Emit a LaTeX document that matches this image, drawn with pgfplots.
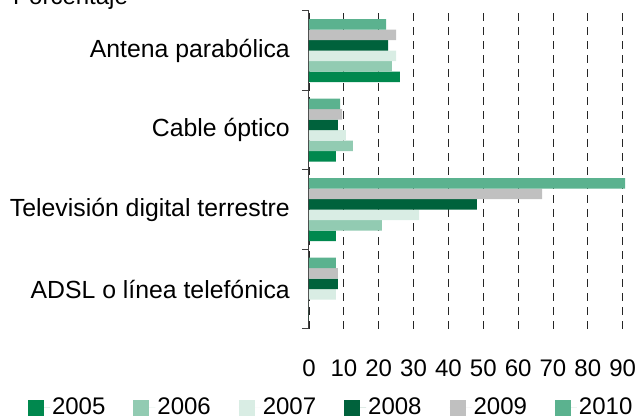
\documentclass[border=0pt]{standalone}
\usepackage{fontspec}
\setmainfont{Liberation Sans}
\usepackage{pgfplots}
\pgfplotsset{compat=1.18}
\definecolor{c2005}{RGB}{0,136,78}
\definecolor{c2006}{RGB}{146,203,178}
\definecolor{c2007}{RGB}{217,237,228}
\definecolor{c2008}{RGB}{0,98,60}
\definecolor{c2009}{RGB}{192,192,192}
\definecolor{c2010}{RGB}{91,178,143}
\begin{document}
\fontsize{24}{28}\selectfont
\begin{tikzpicture}
\begin{axis}[
  at={(0,0)}, anchor=south west,
  scale only axis, width=317.2pt, height=318pt,
  xbar=0pt, bar width=10.5pt,
  xmin=0, xmax=91, ymin=-0.5, ymax=3.5,
  xtick={0,10,...,90},
  ytick={0,1,2,3},
  yticklabels={ADSL o línea telefónica, Televisión digital terrestre, Cable óptico, Antena parabólica},
  minor ytick={-0.5,0.5,1.5,2.5,3.5},
  major tick length=0pt, minor tick length=7pt, tick align=outside,
  axis y line*=left, axis x line*=bottom,
  x axis line style={draw=none},
  y axis line style={black!75, line width=1pt},
  minor tick style={black!75, line width=1pt},
  xmajorgrids,
  major x grid style={black!85, line width=0.8pt, dash pattern=on 8pt off 6pt},
  /pgf/number format/assume math mode=true,
  xticklabel style={yshift=-23pt},
  yticklabel style={xshift=-11pt, font=\fontsize{24.8}{28}\selectfont},
  legend columns=6,
  legend style={draw=none, at={(0.07,-0.248)}, anchor=center,
    /tikz/every even column/.append style={column sep=26pt}},
  legend image code/.code={\path (0pt,0pt) -- (22pt,0pt); \fill[#1] (0pt,-8pt) rectangle (16pt,8pt);},
]
\addplot[fill=c2005, draw=none] coordinates {(0,0) (7.7,1) (7.7,2) (26.1,3)};
\addplot[fill=c2006, draw=none] coordinates {(0,0) (20.9,1) (12.6,2) (23.8,3)};
\addplot[fill=c2007, draw=none] coordinates {(7.7,0) (31.6,1) (10.6,2) (25.0,3)};
\addplot[fill=c2008, draw=none] coordinates {(8.3,0) (48.2,1) (8.3,2) (22.7,3)};
\addplot[fill=c2009, draw=none] coordinates {(8.3,0) (66.9,1) (9.5,2) (25.0,3)};
\addplot[fill=c2010, draw=none] coordinates {(7.7,0) (90.7,1) (8.9,2) (22.1,3)};
\legend{2005,2006,2007,2008,2009,2010}
\end{axis}
\node[anchor=base west, inner sep=0pt] at (-296pt,324pt) {Porcentaje};
\pgfresetboundingbox
\path[use as bounding box] (-309pt,-90pt) rectangle (329pt,329pt);
\end{tikzpicture}
\end{document}
